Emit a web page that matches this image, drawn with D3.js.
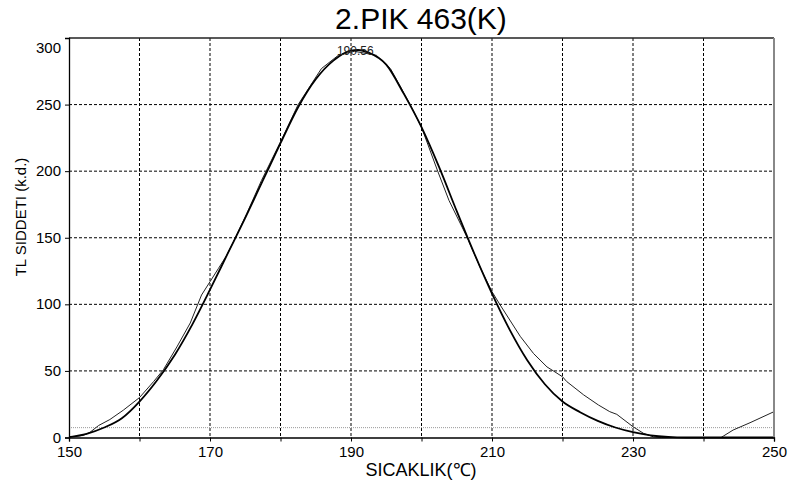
<!DOCTYPE html>
<html lang="tr">
<head>
	<meta charset="UTF-8">
	<script src="https://cdn.jsdelivr.net/npm/d3@7"></script>
	<style>
		body{ margin:0; background:#fff; }
		text{ font-family: "Liberation Sans", Arial, sans-serif; fill:#000; }
		.grid line{ stroke:#000; stroke-width:1; stroke-dasharray:3,2; }
		.fit{ fill:none; stroke:#000; stroke-width:1.8px; }
		.meas{ fill:none; stroke:#222; stroke-width:1px; }
	</style>
</head>
<body>
<script>
	// fitted (smooth) glow curve: temperature, intensity
	const fitT = [150,152.5,155,157.5,160,162.5,165,167.5,170,172.5,175,177.5,180,182.5,185,187.5,190,191,192.5,195,197.5,200,202.5,205,207.5,210,212.5,215,217.5,220,222.5,225,227.5,230,232.5,235,237.5,250];
	const fitV = [0.3,2.8,7.5,14.5,27,43,62,85,111,138,165,193,221,248,269,283,290.5,291,289,280,258,233,203,170,138,108,81,58,40,27,19,12.5,7.5,4,1.6,0.4,0,0];
	// measured curve
	const measT = [150,152,153,154.2,155.8,157.7,160,162,163.4,165.3,167.2,168.8,170,171.2,172.4,173.6,175.2,177.3,180,182.5,185.8,188.2,190.5,193.6,195.6,198.4,200,202.3,203.9,206.5,208.3,210,211.1,214,215.9,217.8,218.7,220,220.6,223,225.1,226.7,227.7,230,231.5,232.9,234,242.5,242.8,244.2,246.6,250];
	const measV = [0.5,1.5,4,9,13.5,20.5,30,42,51,68,86,107,117,127,137,150,168,193,222,250,277,287,290,287,277,250,233,200,178,150,128,109.5,100,76,63,53,50,45.6,42,32,24.4,19.4,17.4,8.1,3.1,0.5,0,0,1,5.6,11.1,19.4];
	const peakLabel = "190.56", peakT = 190.6, peakV = 291;
	const baseLevel = 7.4;
	const xTicks = d3.range(150, 251, 10), xLabels = [150,170,190,210,230,250];
	const yTicks = d3.range(0, 301, 50);

	const W = 791, H = 485;
	const L = 69, R = 774, T = 38, B = 437.5;

	const svg = d3.select("body").append("svg")
		.attr("width", W).attr("height", H);

	const x = d3.scaleLinear().domain([150,250]).range([L,R]);
	const y = d3.scaleLinear().domain([0,300]).range([B,T]);

	// grid
	const grid = svg.append("g").attr("class","grid");
	grid.selectAll(".gx").data(xTicks.filter(d => d > 150 && d < 250)).enter()
		.append("line").attr("x1", d => x(d)).attr("x2", d => x(d))
		.attr("y1", T).attr("y2", B);
	grid.selectAll(".gy").data(yTicks.filter(d => d > 0 && d < 300)).enter()
		.append("line").attr("y1", d => y(d)).attr("y2", d => y(d))
		.attr("x1", L).attr("x2", R);

	// baseline level (gray dotted)
	svg.append("line")
		.attr("x1", L).attr("x2", R)
		.attr("y1", y(baseLevel)).attr("y2", y(baseLevel))
		.attr("stroke","#999").attr("stroke-dasharray","1,1");

	// curves
	const fitData = fitT.map((t,i) => [t, fitV[i]]);
	const measData = measT.map((t,i) => [t, measV[i]]);
	svg.append("path").attr("class","meas")
		.attr("d", d3.line().x(d => x(d[0])).y(d => y(d[1])).curve(d3.curveLinear)(measData));
	svg.append("path").attr("class","fit")
		.attr("d", d3.line().x(d => x(d[0])).y(d => y(d[1])).curve(d3.curveMonotoneX)(fitData));

	// peak label
	svg.append("text")
		.attr("x", x(peakT)).attr("y", y(peakV) + 5)
		.attr("text-anchor","middle")
		.style("font-size","12px").style("fill","#222")
		.text(peakLabel);

	// frame
	svg.append("line").attr("x1", L).attr("x2", R).attr("y1", T).attr("y2", T)
		.attr("stroke","#222").attr("stroke-width",1.5);
	svg.append("line").attr("x1", R).attr("x2", R).attr("y1", T).attr("y2", B)
		.attr("stroke","#888").attr("stroke-width",2);

	// axes
	const yAxis = svg.append("g")
		.attr("transform","translate("+L+",0)")
		.call(d3.axisLeft(y).tickValues(yTicks).tickSize(4).tickPadding(4));
	yAxis.selectAll("text").style("font-size","15px")
		.attr("dy", d => d === 300 ? "0.95em" : "0.3em");

	const xAxis = svg.append("g")
		.attr("transform","translate(0,"+B+")")
		.call(d3.axisBottom(x).tickValues(xTicks).tickSize(4).tickPadding(5)
			.tickFormat(d => xLabels.includes(d) ? d : ""));
	xAxis.selectAll("text").style("font-size","15px");
	svg.selectAll(".domain").attr("stroke","#000").attr("stroke-width",1.3);
	svg.selectAll(".tick line").attr("stroke","#000");

	// titles
	svg.append("text").attr("x", 421).attr("y", 29)
		.attr("text-anchor","middle").style("font-size","30px")
		.text("2.PIK 463(K)");
	svg.append("text").attr("x", 421).attr("y", 476)
		.attr("text-anchor","middle").style("font-size","18px")
		.text("SICAKLIK(℃)");
	svg.append("text")
		.attr("transform","translate(26,217) rotate(-90)")
		.attr("text-anchor","middle").style("font-size","15px")
		.text("TL SIDDETI (k.d.)");
</script>
</body>
</html>
